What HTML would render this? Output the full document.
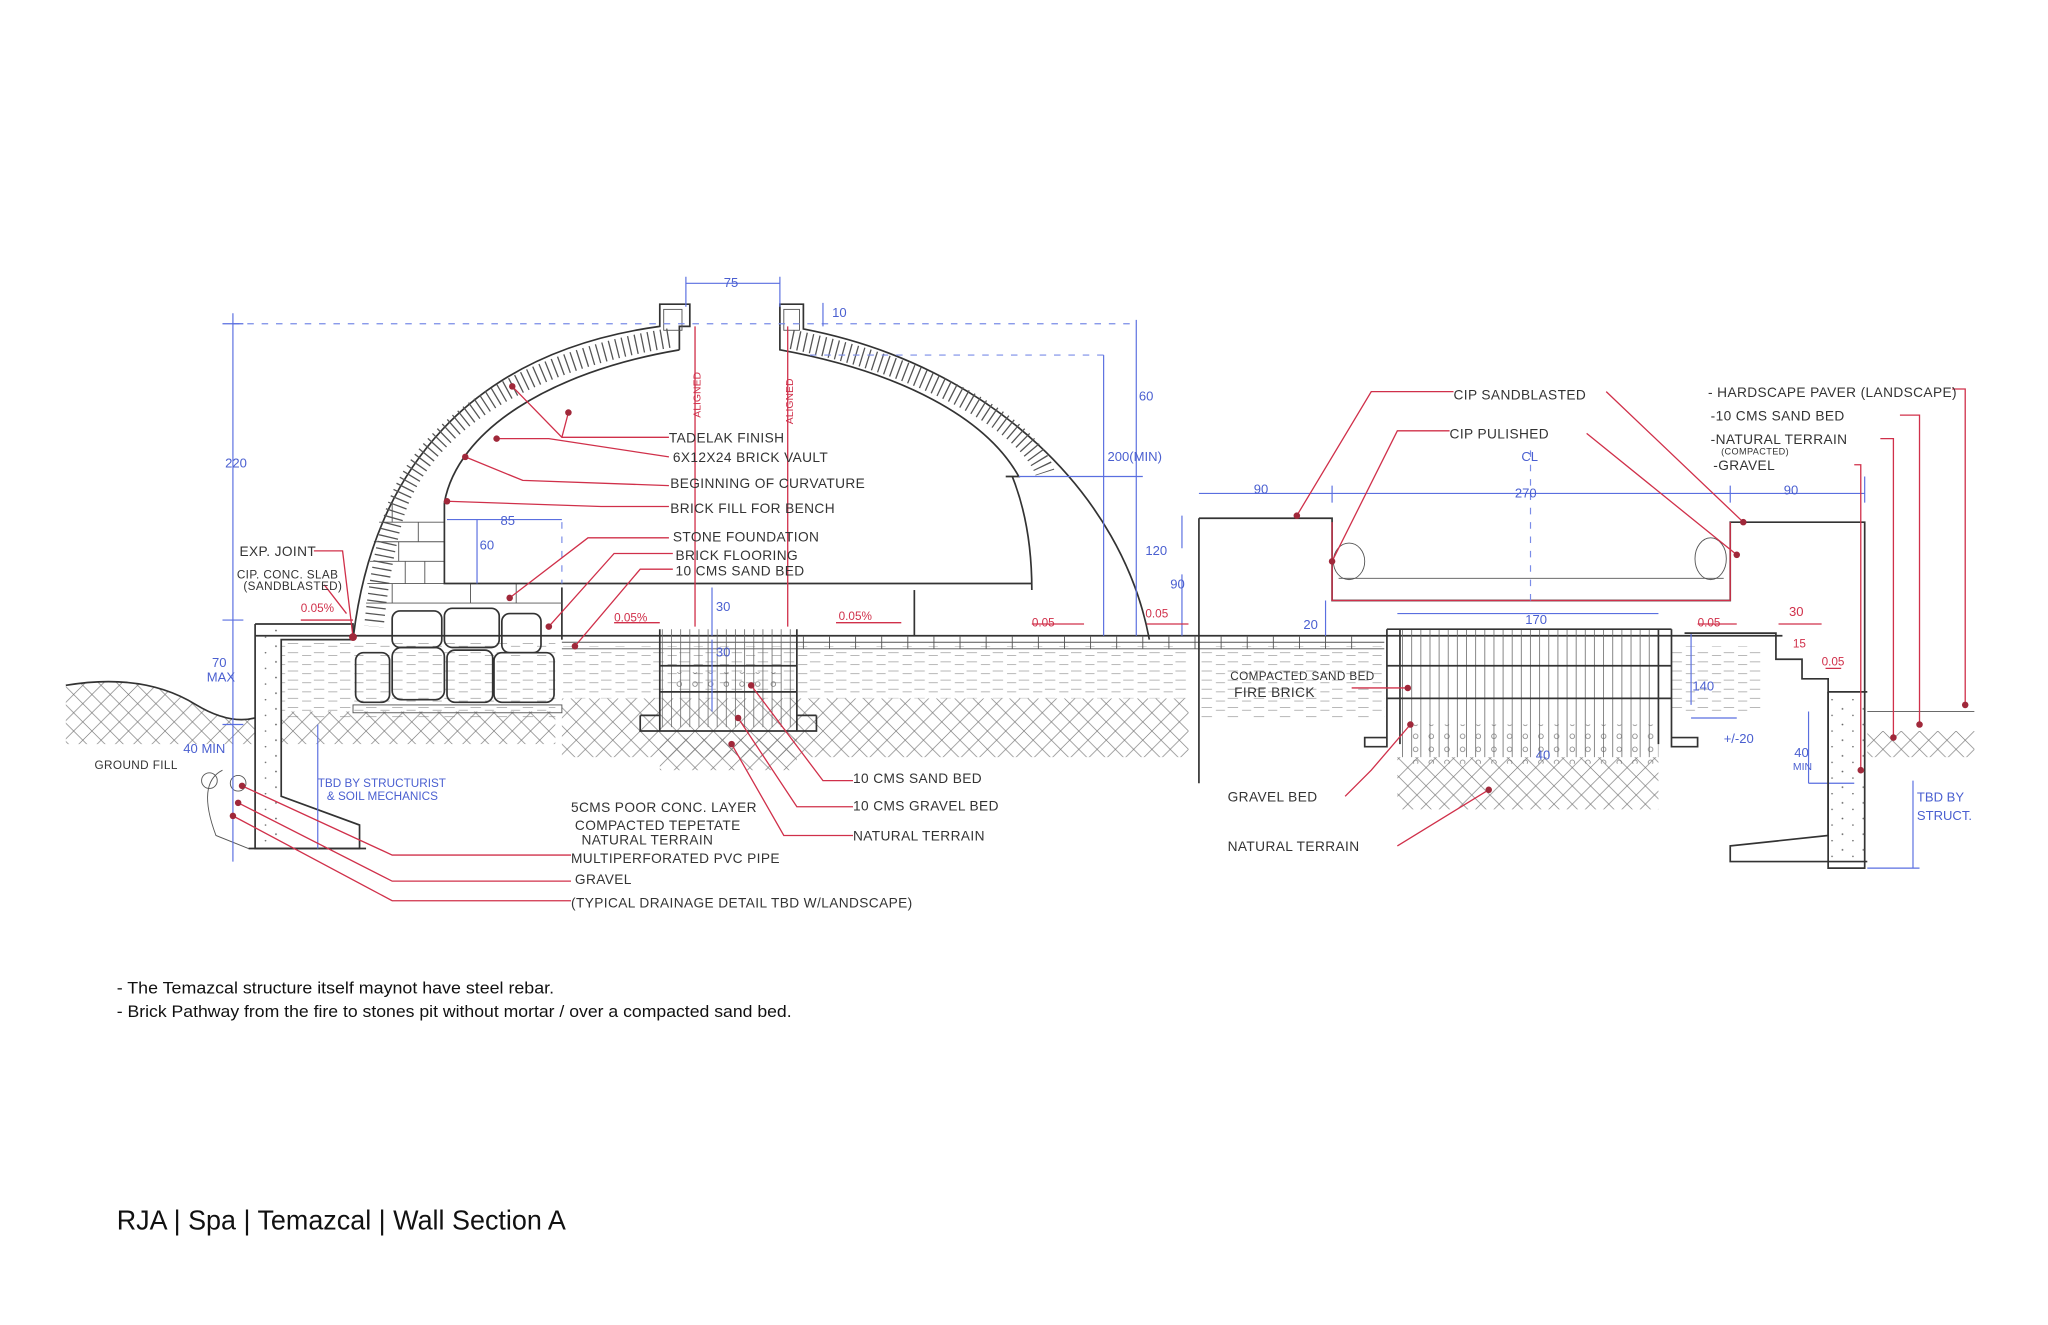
<!DOCTYPE html>
<html><head><meta charset="utf-8"><style>
html,body{margin:0;padding:0;background:#fff;}
svg{display:block}
text{font-family:"Liberation Sans",sans-serif;}
.k{fill:#333;font-size:10.5px;letter-spacing:0.3px}
.b{fill:#4a5fd0;font-size:10px}
.r{fill:#d0304a;font-size:9px}
.ln{stroke:#333;stroke-width:1.3;fill:none}
.th{stroke:#555;stroke-width:0.7;fill:none}
.bl{stroke:#5a6fe0;stroke-width:0.9;fill:none}
.bd{stroke:#7a8ce8;stroke-width:0.9;fill:none;stroke-dasharray:5 6}
.rd{stroke:#d0304a;stroke-width:1;fill:none}
.dot{fill:#a0283a}
</style></head><body>
<svg width="2048" height="1325" viewBox="0 0 1568 1015" xmlns="http://www.w3.org/2000/svg">
<defs>
<pattern id="xh" width="14" height="14" patternUnits="userSpaceOnUse"><path d="M0 0L14 14M14 0L0 14" stroke="#777" stroke-width="0.5"/></pattern>
<pattern id="hz" width="20" height="7" patternUnits="userSpaceOnUse"><path d="M0 3h8M11 5h7" stroke="#888" stroke-width="0.5"/></pattern>
<pattern id="vt" width="7" height="10" patternUnits="userSpaceOnUse"><path d="M3 0v10" stroke="#666" stroke-width="0.6"/></pattern>
<pattern id="gr" width="12" height="10" patternUnits="userSpaceOnUse"><circle cx="4" cy="4" r="1.8" stroke="#666" stroke-width="0.5" fill="none"/></pattern>
<pattern id="dt" width="16" height="12" patternUnits="userSpaceOnUse"><circle cx="3" cy="3" r="0.7" fill="#666"/><circle cx="11" cy="8" r="0.6" fill="#666"/></pattern>
</defs>
<rect width="1568" height="1015" fill="#fff"/>

<!-- ground hatching -->
<path d="M50 525 Q110 515 150 540 Q180 555 195 550 L195 570 L50 570Z" fill="url(#xh)"/>
<path class="ln" d="M50 525 Q110 515 150 540 Q175 555 195 550"/>
<rect x="215" y="490" width="210" height="60" fill="url(#hz)"/>
<rect x="215" y="545" width="210" height="25" fill="url(#xh)"/>
<rect x="430" y="495" width="480" height="40" fill="url(#hz)"/>
<rect x="430" y="535" width="480" height="45" fill="url(#xh)"/>
<rect x="920" y="495" width="140" height="55" fill="url(#hz)"/>
<rect x="1070" y="580" width="200" height="40" fill="url(#xh)"/>
<rect x="1430" y="560" width="82" height="20" fill="url(#xh)"/>
<rect x="1280" y="495" width="70" height="50" fill="url(#hz)"/>

<!-- ground/pavement line -->
<path class="ln" d="M195 487H1365"/>
<path class="th" d="M430 492H1060M430 497H1060"/>
<g class="th"><path d="M615 487v10M635 487v10M655 487v10M675 487v10M695 487v10M715 487v10M735 487v10M755 487v10M775 487v10M795 487v10M815 487v10M835 487v10M855 487v10M875 487v10M895 487v10M915 487v10M935 487v10M955 487v10M975 487v10M995 487v10M1015 487v10M1035 487v10"/></g>

<!-- left wall -->
<path class="ln" d="M195 478H270V490M195 478V650H275V632L215 610V490H270"/>
<rect x="196" y="479" width="18" height="170" fill="url(#dt)"/>
<path class="ln" d="M190 650H280"/>
<circle cx="160" cy="598" r="6" class="th"/><circle cx="182" cy="600" r="6" class="th"/>
<path class="th" d="M170 590 Q150 600 165 640 L190 650"/>

<!-- stones -->
<rect x="270" y="540" width="160" height="6" class="th"/>
<g class="ln" stroke-width="1">
<rect x="300" y="468" width="38" height="28" rx="6"/><rect x="340" y="466" width="42" height="30" rx="6"/><rect x="384" y="470" width="30" height="30" rx="6"/>
<rect x="272" y="500" width="26" height="38" rx="6"/><rect x="300" y="496" width="40" height="40" rx="7"/><rect x="342" y="498" width="35" height="40" rx="6"/><rect x="378" y="500" width="46" height="38" rx="6"/>
</g>
<path class="ln" d="M430 450V490"/>
<!-- brick fill for bench -->
<g class="th"><path d="M290 400H340M286 415H340M283 430H340M281 447H430M280 462H430M300 385V400M320 400V415M305 415V430M325 430V447M300 447V462M360 447V462M395 447V462M310 430V447"/></g>

<!-- dome left -->
<path class="ln" d="M270 490 C285 360 360 270 505 250 V233 H528 V250 H520 V268"/>
<path class="ln" d="M520 268 C420 285 350 330 340 385"/>
<path d="M512 259 C395 278 318 330 300 400 C292 430 288 460 286 480" stroke="#555" stroke-width="15" stroke-dasharray="1 4" fill="none"/>
<path class="ln" d="M340 385 V447 H790"/>
<!-- dome right -->
<path class="ln" d="M597 250 V233 H615 V252 C760 280 860 380 880 490"/>
<path class="ln" d="M597 250 V268 C690 285 755 320 780 365 L770 365"/>
<path d="M606 260 C720 283 790 330 800 362" stroke="#555" stroke-width="15" stroke-dasharray="1 4" fill="none"/>
<path class="ln" d="M775 365 C785 390 790 420 790 452"/>
<path class="ln" d="M700 452V487"/>
<rect x="508" y="237" width="14" height="16" class="th"/><rect x="600" y="237" width="12" height="16" class="th"/>

<!-- pit -->
<rect x="505" y="482" width="105" height="75" fill="url(#vt)"/>
<path class="ln" d="M505 482V560M610 482V560M505 510H610M505 530H610M490 548H505M610 548H625M490 548V560H625V548"/>
<rect x="515" y="515" width="85" height="15" fill="url(#gr)"/>
<rect x="505" y="565" width="105" height="25" fill="url(#xh)"/>

<!-- dashed dims -->
<path class="bd" d="M178 248H870M620 272H850"/>
<path class="bl" d="M178 240V660M170 248H186M170 475H186M170 555H186"/>
<path class="bl" d="M525 212V235M597 212V235M525 217H597M630 232V250"/>
<path class="bl" d="M845 272V487M870 245V487M780 365H875"/>
<path class="bl" d="M342 398H430M365 398V447M545 450V487M545 490V545M243 555V650"/>
<path class="bd" d="M430 400V447" stroke-dasharray="4 4"/>
<path class="bl" d="M905 395V420M905 440V487M918 378H1428M1020 372V385M1325 372V385M1428 365V385"/>
<path class="bl" d="M1070 470H1270M1015 460V487M1295 485V540M1295 550H1330M1385 545V600M1385 600H1420M1465 598V665M1430 665H1470"/>
<path class="rd" d="M532 250V480M603 250V480"/>
<path class="rd" d="M230 475H270M470 477H505M640 477H690M790 478H830M878 478H910M1300 478H1330M1362 478H1395M1398 512H1410"/>

<!-- right bench -->
<path class="ln" d="M918 397H1020V460H1325V400H1428V665H1400V530"/>
<path class="ln" d="M918 397V600"/>
<path class="rd" d="M1020 400V460H1325V400" stroke-width="1.5"/>
<path class="th" d="M1025 443H1320"/>
<ellipse cx="1033" cy="430" rx="12" ry="14" class="th"/><ellipse cx="1310" cy="428" rx="12" ry="16" class="th"/>
<path class="bd" d="M1172 345V465" stroke-dasharray="6 4 2 4"/>

<!-- fire pit -->
<rect x="1070" y="482" width="200" height="98" fill="url(#vt)"/>
<rect x="1075" y="555" width="195" height="30" fill="url(#gr)"/>
<path class="ln" d="M1062 482V570M1280 482V570M1062 482H1280M1062 510H1280M1062 535H1280M1045 565H1062V572H1045ZM1280 565H1300V572H1280Z"/>
<path class="ln" d="M1072 482V570M1270 482V570"/>
<!-- right steps + wall -->
<path class="ln" d="M1290 485H1360V505H1380V520H1400V530H1430"/>
<path class="ln" d="M1400 530V640L1325 648V660H1430"/>
<rect x="1402" y="532" width="26" height="128" fill="url(#dt)"/>
<path class="th" d="M1430 545H1512"/>

<!-- leader lines -->
<g class="rd">
<path d="M392 296L430 335H512M435 316L430 335M380 336H420L512 350M356 350L400 368L512 372M342 384L460 388H512M390 458L450 412H512M420 480L470 424H500L515 424M440 495L490 436H515"/>
<path d="M240 422H262L270 488M248 448L265 470"/>
<path d="M185 602L300 655H437M182 615L300 675H437M178 625L300 690H437"/>
<path d="M575 525L630 598H653M565 550L610 618H653M560 570L600 640H653"/>
<path d="M993 395L1050 300H1113M1020 430L1070 330H1110M1230 300L1335 400M1215 332L1330 425"/>
<path d="M1078 527H1035M1080 555L1050 590L1030 610M1140 605L1070 648"/>
<path d="M1495 298H1505V540M1455 318H1470V555M1440 336H1450V565M1420 356H1425V590"/>
</g>
<g class="dot">
<circle cx="392" cy="296" r="2.5"/><circle cx="435" cy="316" r="2.5"/><circle cx="380" cy="336" r="2.5"/><circle cx="356" cy="350" r="2.5"/><circle cx="342" cy="384" r="2.5"/>
<circle cx="390" cy="458" r="2.5"/><circle cx="420" cy="480" r="2.5"/><circle cx="440" cy="495" r="2.5"/><circle cx="270" cy="488" r="3"/>
<circle cx="185" cy="602" r="2.5"/><circle cx="182" cy="615" r="2.5"/><circle cx="178" cy="625" r="2.5"/>
<circle cx="575" cy="525" r="2.5"/><circle cx="565" cy="550" r="2.5"/><circle cx="560" cy="570" r="2.5"/>
<circle cx="993" cy="395" r="2.5"/><circle cx="1020" cy="430" r="2.5"/><circle cx="1335" cy="400" r="2.5"/><circle cx="1330" cy="425" r="2.5"/>
<circle cx="1078" cy="527" r="2.5"/><circle cx="1080" cy="555" r="2.5"/><circle cx="1140" cy="605" r="2.5"/>
<circle cx="1505" cy="540" r="2.5"/><circle cx="1470" cy="555" r="2.5"/><circle cx="1450" cy="565" r="2.5"/><circle cx="1425" cy="590" r="2.5"/>
</g>

<!-- labels black -->
<g class="k">
<text x="512" y="339">TADELAK FINISH</text>
<text x="515" y="354">6X12X24 BRICK VAULT</text>
<text x="513" y="374">BEGINNING OF CURVATURE</text>
<text x="513" y="393">BRICK FILL FOR BENCH</text>
<text x="515" y="415">STONE FOUNDATION</text>
<text x="517" y="429">BRICK FLOORING</text>
<text x="517" y="441">10 CMS SAND BED</text>
<text x="183" y="426">EXP. JOINT</text>
<text x="181" y="443" font-size="9">CIP. CONC. SLAB</text>
<text x="186" y="452" font-size="9">(SANDBLASTED)</text>
<text x="72" y="589" font-size="9">GROUND FILL</text>
<text x="437" y="622">5CMS POOR CONC. LAYER</text>
<text x="440" y="636">COMPACTED TEPETATE</text>
<text x="445" y="647">NATURAL TERRAIN</text>
<text x="437" y="661">MULTIPERFORATED PVC PIPE</text>
<text x="440" y="677">GRAVEL</text>
<text x="437" y="695">(TYPICAL DRAINAGE DETAIL TBD W/LANDSCAPE)</text>
<text x="653" y="600">10 CMS SAND BED</text>
<text x="653" y="621">10 CMS GRAVEL BED</text>
<text x="653" y="644">NATURAL TERRAIN</text>
<text x="1113" y="306">CIP SANDBLASTED</text>
<text x="1110" y="336">CIP PULISHED</text>
<text x="1308" y="304">- HARDSCAPE PAVER (LANDSCAPE)</text>
<text x="1310" y="322">-10 CMS  SAND BED</text>
<text x="1310" y="340">-NATURAL TERRAIN</text>
<text x="1318" y="348" font-size="7">(COMPACTED)</text>
<text x="1312" y="360">-GRAVEL</text>
<text x="942" y="521" font-size="9">COMPACTED SAND BED</text>
<text x="945" y="534">FIRE BRICK</text>
<text x="940" y="614">GRAVEL  BED</text>
<text x="940" y="652">NATURAL TERRAIN</text>
</g>
<!-- blue dims -->
<g class="b">
<text x="554" y="220">75</text><text x="637" y="243">10</text>
<text x="172" y="358">220</text><text x="162" y="511">70</text><text x="158" y="522">MAX</text>
<text x="140" y="577">40 MIN</text>
<text x="383" y="402">85</text><text x="367" y="421">60</text>
<text x="548" y="468">30</text><text x="548" y="503">30</text>
<text x="243" y="603" font-size="9">TBD BY STRUCTURIST</text><text x="250" y="613" font-size="9">&amp; SOIL MECHANICS</text>
<text x="872" y="307">60</text><text x="848" y="353">200(MIN)</text><text x="877" y="425">120</text><text x="896" y="451">90</text>
<text x="960" y="378">90</text><text x="1160" y="381">270</text><text x="1366" y="379">90</text><text x="1165" y="353">CL</text>
<text x="998" y="482">20</text><text x="1168" y="478">170</text><text x="1296" y="529">140</text><text x="1320" y="569">+/-20</text>
<text x="1176" y="582">40</text><text x="1374" y="580">40</text><text x="1373" y="590" font-size="8">MIN</text>
<text x="1468" y="614">TBD BY</text><text x="1468" y="628">STRUCT.</text>
</g>
<!-- red -->
<g class="r">
<text x="230" y="469">0.05%</text><text x="470" y="476">0.05%</text><text x="642" y="475">0.05%</text>
<text x="790" y="480">0.05</text><text x="877" y="473">0.05</text><text x="1300" y="480">0.05</text>
<text x="1370" y="472" font-size="10">30</text><text x="1373" y="496">15</text><text x="1395" y="510">0.05</text>
<text transform="translate(536,320) rotate(-90)" font-size="8">ALIGNED</text>
<text transform="translate(607,325) rotate(-90)" font-size="8">ALIGNED</text>
</g>

<!-- notes & title -->
<text x="89" y="761" font-size="13" fill="#111" textLength="335" lengthAdjust="spacingAndGlyphs">- The Temazcal structure itself maynot have steel rebar.</text>
<text x="89" y="779" font-size="13" fill="#111" textLength="517" lengthAdjust="spacingAndGlyphs">- Brick Pathway from the fire to stones pit without mortar / over a compacted sand bed.</text>
<text x="89" y="942" font-size="21" fill="#111" textLength="344" lengthAdjust="spacingAndGlyphs">RJA | Spa | Temazcal | Wall Section A</text>
</svg>
</body></html>
